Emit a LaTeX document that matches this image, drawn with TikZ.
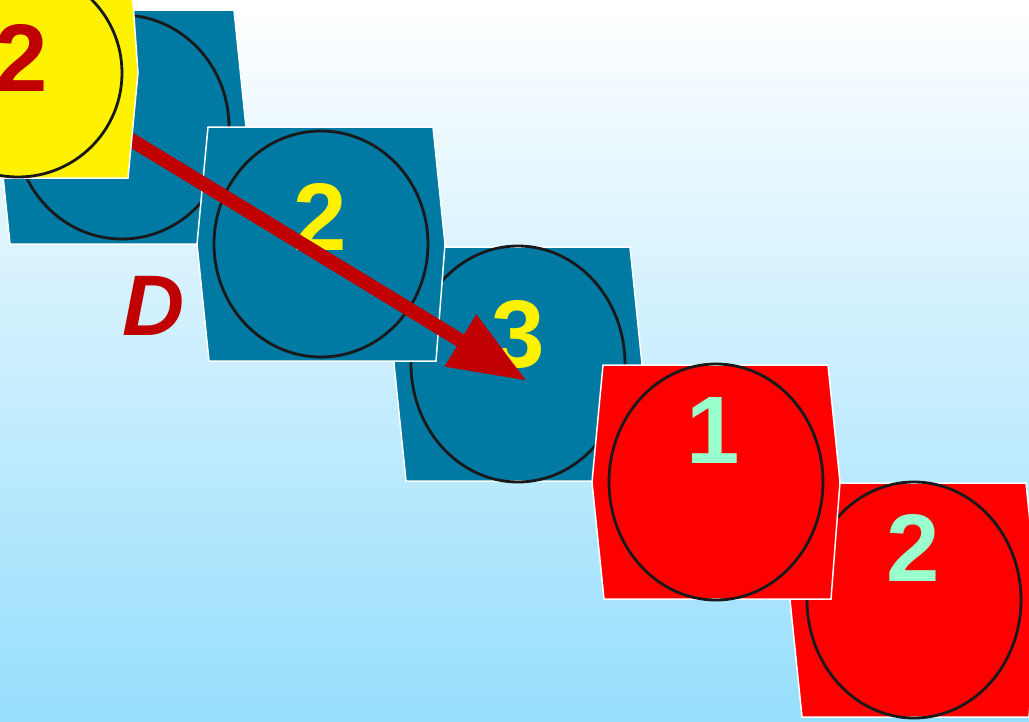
\documentclass[tikz,border=0pt]{standalone}
\usepackage{fontspec}
\setmainfont{Liberation Sans}
\usetikzlibrary{arrows.meta}
\definecolor{tileblue}{RGB}{0,121,163}
\definecolor{tilered}{RGB}{255,0,0}
\definecolor{darkred}{RGB}{192,0,0}
\definecolor{mint}{RGB}{153,255,204}
\definecolor{skymid}{RGB}{212,241,254}
\definecolor{skybottom}{RGB}{150,222,252}

\begin{document}
\begin{tikzpicture}[x=1pt, y=-1pt, >={Triangle[length=78pt, width=57pt]},
	tile/.style={draw=white, line width=1.5pt},
	ring/.style={draw=black!90, line width=2.8pt},
	num/.style={font=\fontsize{96}{96}\selectfont\bfseries, inner sep=0pt}]
	\clip (0,0) rectangle (1029,721);
	\shade[top color=white, middle color=skymid, bottom color=skybottom] (0,0) rectangle (1029,721);
	\foreach \cx/\cy/\ry/\col in {122/127/112/tileblue, 518/364/118/tileblue, 914/600/118/tilered, 321/244/113/tileblue, 716/482/118/tilered}
	{
		\draw[tile, fill=\col] (\cx-113,\cy-117) -- (\cx+112,\cy-117) -- (\cx+124,\cy) -- (\cx+115,\cy+117) -- (\cx-112,\cy+117) -- (\cx-124,\cy) -- cycle;
		\draw[ring] (\cx,\cy) ellipse (107 and \ry);
	}
	\node[num, text=yellow] (two) at (320,217) {2};
	\node[num, text=yellow] (three) at (518,335) {3};
	\node[num, text=mint] (one) at (713,430) {1};
	\node[num, text=mint] (twoB) at (913,548) {2};
	\coordinate (start) at (110,127);
	\coordinate (tip) at (527,381);
	\draw[->, darkred, line width=14pt] (start) -- (tip);
	\draw[tile, fill=yellow] (-100,-40) -- (130,-40) -- (138,73) -- (128,178) -- (-100,178) -- cycle;
	\draw[ring] (18,73) circle (104);
	\node[num, text=darkred] (topnum) at (21,58) {2};
	\node[font=\fontsize{86}{86}\selectfont\bfseries\itshape, text=darkred, inner sep=0pt] (dlabel) at (154,306) {D};
\end{tikzpicture}
\end{document}
